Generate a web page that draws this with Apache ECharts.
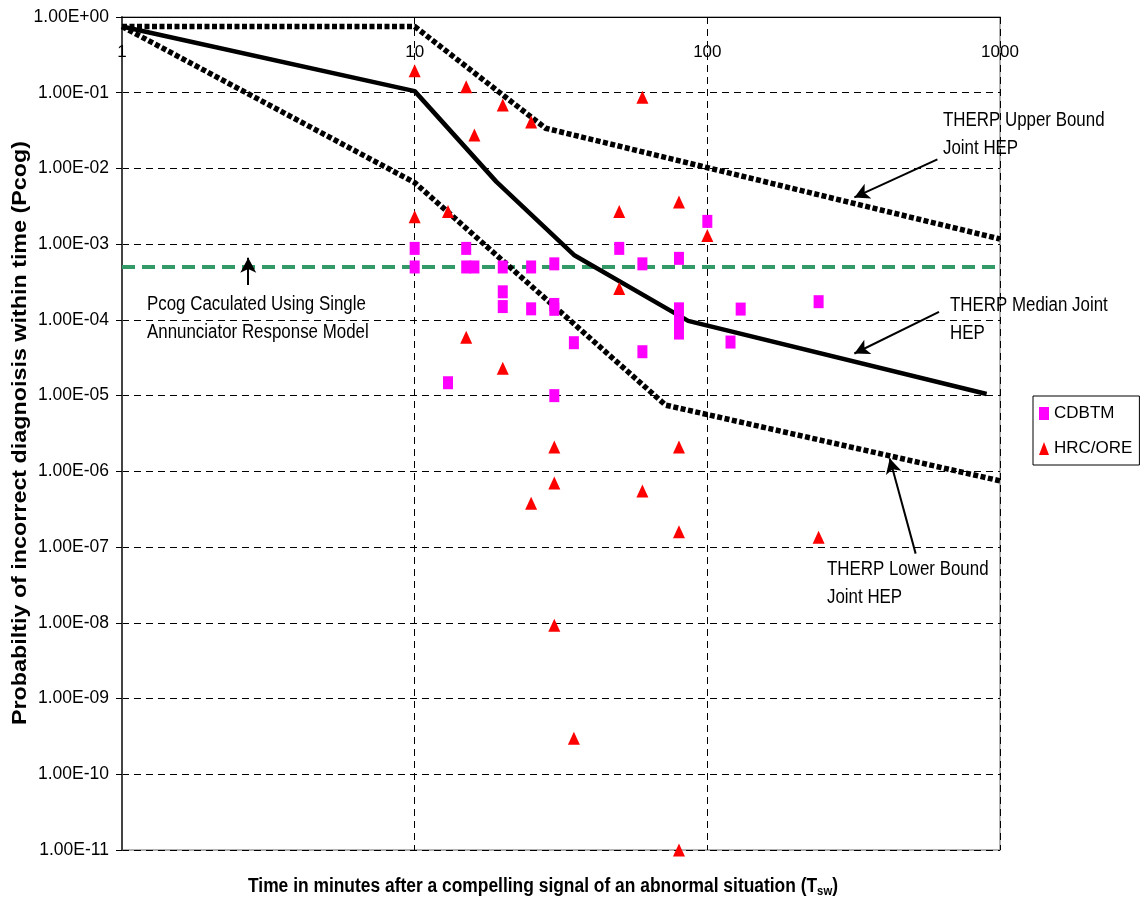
<!DOCTYPE html>
<html>
<head>
<meta charset="utf-8">
<script src="https://cdn.jsdelivr.net/npm/echarts@6/dist/echarts.min.js"></script>
<style>
  html, body { margin: 0; padding: 0; background: #fff; }
  #chart { width: 1144px; height: 907px; }
</style>
</head>
<body>
<div id="chart"></div>
<script>
// ── Data ────────────────────────────────────────────────────────────────────
var xTicks = [1, 10, 100, 1000];

var cdbtmX = [10, 10, 15, 15, 16, 20, 25, 30, 50, 60, 80, 100,
              20, 20, 25, 30, 30, 80, 80, 80, 35, 60, 13, 30, 130, 120, 240];
var cdbtmY = [8.8e-4, 5e-4, 8.8e-4, 5e-4, 5e-4, 5e-4, 5e-4, 5.5e-4, 8.8e-4, 5.5e-4, 6.5e-4, 2e-3,
              2.35e-4, 1.5e-4, 1.4e-4, 1.6e-4, 1.38e-4, 1.4e-4, 9.5e-5, 6.7e-5, 5e-5, 3.8e-5, 1.48e-5, 1e-5,
              1.39e-4, 5.1e-5, 1.74e-4];

var hrcX = [10, 15, 20, 25, 16, 60, 10, 13, 50, 80, 100, 50,
            15, 20, 30, 80, 30, 25, 60, 80, 30, 35, 80, 240];
var hrcY = [0.195, 0.12, 0.069, 0.041, 0.0276, 0.087, 0.0023, 0.0027, 0.0027, 0.0036, 0.0013, 2.6e-4,
            5.9e-5, 2.3e-5, 2.1e-6, 2.1e-6, 7.0e-7, 3.8e-7, 5.5e-7, 1.6e-7, 9.3e-9, 3e-10, 1e-11, 1.35e-7];

var upperX = [1, 10, 28, 1000];
var upperY = [0.75, 0.75, 0.034, 0.00117];

var medianX = [1, 10, 19, 35, 86, 900];
var medianY = [0.75, 0.105, 0.0067, 7.2e-4, 9.7e-5, 1.05e-5];

var lowerX = [1, 10, 72, 1000];
var lowerY = [0.75, 0.0065, 7.5e-6, 7.5e-7];

var pcogX = [1, 1000];
var pcogY = [5e-4, 5e-4];

// arrows: [fromX, fromY, toX, toY]
var arrowPcog   = [2.7, 2.9e-4, 2.7, 6.6e-4];
var arrowUpper  = [611, 0.0132, 318, 0.00415];
var arrowMedian = [619, 1.28e-4, 318, 3.6e-5];
var arrowLower  = [515, 8.2e-8, 420, 1.48e-6];

// ── helpers ─────────────────────────────────────────────────────────────────
function zip(xs, ys) {
  return xs.map(function (x, i) { return [x, ys[i]]; });
}

function sciLabel(v) {
  var e = Math.round(Math.log10(v));
  var a = Math.abs(e);
  return '1.00E' + (e >= 0 ? '+' : '-') + (a < 10 ? '0' + a : '' + a);
}

function arrowLine(a) {
  return [{ coord: [a[0], a[1]] }, { coord: [a[2], a[3]] }];
}

// no narrow font installed: regular Liberation Sans, squeezed where we can
var SANS = "'Liberation Sans', Arial, sans-serif";
var SQUEEZE = 0.845;
var DOTS = [5, 2.5];

function note(x, y, text) {
  return {
    type: 'text', x: x, y: y, scaleX: SQUEEZE,
    style: { text: text, font: '20px ' + SANS, fill: '#000', lineHeight: 28, verticalAlign: 'top' }
  };
}

var chart = echarts.init(document.getElementById('chart'));

chart.setOption({
  animation: false,
  backgroundColor: '#ffffff',
  grid: {
    left: 122, top: 17, right: 144, bottom: 57,
    show: true, borderColor: '#999999', borderWidth: 1.5
  },
  legend: {
    orient: 'vertical',
    left: 1033, top: 396,
    data: ['CDBTM', 'HRC/ORE'],
    borderColor: '#000', borderWidth: 1, borderRadius: 0,
    padding: [9, 7, 8, 6],
    itemWidth: 10, itemHeight: 13, itemGap: 18,
    textStyle: { fontFamily: SANS, fontSize: 17, color: '#000' }
  },
  xAxis: {
    type: 'log', logBase: 10, min: 1, max: 1000, interval: 1,
    position: 'top',
    axisLine: { show: true, lineStyle: { color: '#000', width: 1 } },
    axisTick: { show: false },
    axisLabel: {
      inside: true, margin: 27,
      fontFamily: SANS, fontSize: 17, color: '#000',
      formatter: function (v) { return xTicks.indexOf(Math.round(v)) >= 0 ? String(Math.round(v)) : ''; }
    },
    splitLine: { show: true, lineStyle: { color: '#000', type: [7, 5], width: 1 } }
  },
  yAxis: {
    type: 'log', logBase: 10, min: 1e-11, max: 1, interval: 1,
    axisLine: { show: true, lineStyle: { color: '#444', width: 2 } },
    axisTick: { show: true, length: 6, lineStyle: { color: '#000' } },
    axisLabel: {
      margin: 13, fontFamily: SANS, fontSize: 17.5, color: '#000',
      formatter: sciLabel
    },
    splitLine: { show: true, lineStyle: { color: '#000', type: [7, 5], width: 1 } }
  },
  series: [
    {
      name: 'Pcog', type: 'line', data: zip(pcogX, pcogY),
      symbol: 'none', silent: true, z: 3,
      lineStyle: { color: '#339966', width: 4, type: [13, 7] }
    },
    {
      name: 'Upper', type: 'line', data: zip(upperX, upperY),
      symbol: 'none', silent: true, z: 4,
      lineStyle: { color: '#000', width: 5.5, type: DOTS, cap: 'butt' }
    },
    {
      name: 'Median', type: 'line', data: zip(medianX, medianY),
      symbol: 'none', silent: true, z: 4,
      lineStyle: { color: '#000', width: 4.5 }
    },
    {
      name: 'Lower', type: 'line', data: zip(lowerX, lowerY),
      symbol: 'none', silent: true, z: 4,
      lineStyle: { color: '#000', width: 5.5, type: DOTS, cap: 'butt' }
    },
    {
      name: 'CDBTM', type: 'scatter', data: zip(cdbtmX, cdbtmY),
      symbol: 'rect', symbolSize: [10, 13], z: 5,
      itemStyle: { color: '#ff00ff', opacity: 1 }
    },
    {
      name: 'HRC/ORE', type: 'scatter', data: zip(hrcX, hrcY),
      symbol: 'triangle', symbolSize: [12, 13], z: 5,
      itemStyle: { color: '#ff0000', opacity: 1 }
    },
    {
      name: 'arrows', type: 'line', data: [], z: 6,
      markLine: {
        silent: true, animation: false,
        symbol: ['none', 'arrow'], symbolSize: [12, 15],
        label: { show: false },
        lineStyle: { color: '#000', width: 2, type: 'solid' },
        data: [arrowLine(arrowPcog), arrowLine(arrowUpper), arrowLine(arrowMedian), arrowLine(arrowLower)]
      }
    }
  ],
  graphic: [
    note(147, 290, 'Pcog Caculated Using Single\nAnnunciator Response Model'),
    note(943, 106, 'THERP Upper Bound\nJoint HEP'),
    note(950, 291, 'THERP Median Joint\nHEP'),
    note(827, 555, 'THERP Lower Bound\nJoint HEP'),
    {
      type: 'text', x: 543, y: 886, scaleX: 0.87,
      style: {
        text: '{m|Time in minutes after a compelling signal of an abnormal situation (T}{s|sw}{m|)}',
        align: 'center', verticalAlign: 'middle',
        rich: {
          m: { fontFamily: SANS, fontWeight: 'bold', fontSize: 20, fill: '#000' },
          s: { fontFamily: SANS, fontWeight: 'bold', fontSize: 13, fill: '#000', padding: [11, 0, 0, 0] }
        }
      }
    },
    {
      type: 'text', x: 20, y: 433, rotation: Math.PI / 2, scaleX: 1.11,
      style: {
        text: 'Probabiltiy of incorrect diagnoisis within time (Pcog)',
        align: 'center', verticalAlign: 'middle',
        font: 'bold 21px ' + SANS, fill: '#000'
      }
    }
  ]
});
</script>
</body>
</html>
